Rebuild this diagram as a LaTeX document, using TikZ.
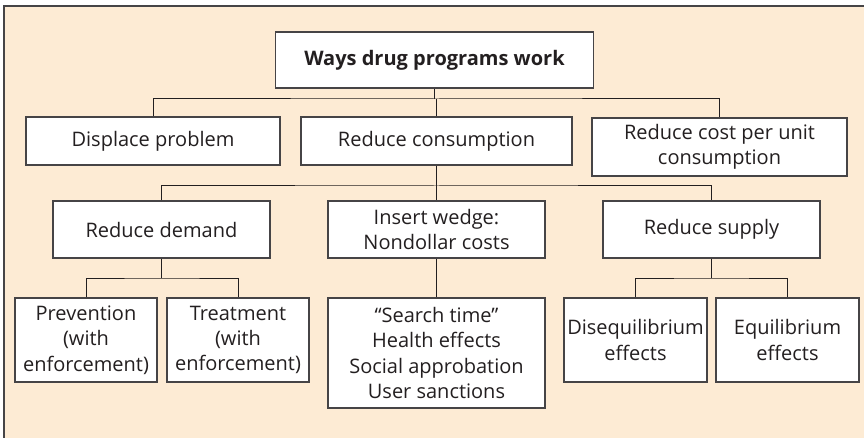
\documentclass[tikz,border=0pt]{standalone}
\usepackage{fontspec}
\setmainfont{Open Sans}
\definecolor{bg}{RGB}{253,235,212}
\definecolor{ink}{RGB}{35,31,32}
\definecolor{frame}{RGB}{70,68,70}
\begin{document}
\begin{tikzpicture}[x=1pt,y=-1pt,
  box/.style={draw=frame,line width=1.2pt,fill=white,rectangle,align=center,
    text=ink,inner sep=0pt,font=\fontsize{20}{25.3}\selectfont},
  conn/.style={draw=ink,line width=1pt}]
\useasboundingbox (0,0) rectangle (864,438);
\fill[bg] (4,6) rectangle (864,438);
\draw[frame,line width=1.4pt] (4,438) -- (4,6) -- (864,6);
% level 0
\node[box,minimum width=318,minimum height=56,font=\fontsize{20}{25.3}\selectfont\bfseries] (title) at (434.5,60) {Ways drug programs work};
% level 1
\node[box,minimum width=254,minimum height=48] (disp) at (153,141) {Displace problem};
\node[box,minimum width=271,minimum height=48] (cons) at (436.5,141) {Reduce consumption};
\node[box,minimum width=255,minimum height=58] (cost) at (719.5,147) {Reduce cost per unit\\consumption};
% level 2
\node[box,minimum width=217,minimum height=57] (dem) at (161.5,229.5) {Reduce demand};
\node[box,minimum width=217,minimum height=57] (wedge) at (436.5,229.5) {Insert wedge:\\Nondollar costs};
\node[box,minimum width=217,minimum height=57] (sup) at (711.5,229.5) {Reduce supply};
% level 3
\node[box,minimum width=142,minimum height=84] (prev) at (86,340) {Prevention\\(with\\enforcement)};
\node[box,minimum width=142,minimum height=84] (treat) at (238,340) {Treatment\\(with\\enforcement)};
\node[box,minimum width=217,minimum height=110] (search) at (436.5,353) {``Search time''\\Health effects\\Social approbation\\User sanctions};
\node[box,minimum width=143,minimum height=84] (diseq) at (635.5,340) {Disequilibrium\\effects};
\node[box,minimum width=143,minimum height=84] (equil) at (787.5,340) {Equilibrium\\effects};
% connector levels
\coordinate (b1) at (436,99);
\coordinate (b2) at (436,186);
\coordinate (b3) at (436,278);
% connectors
\draw[conn] (title.south) -- (title.south |- b1);
\draw[conn] (disp.north) |- (cons.north |- b1) -| (cost.north);
\draw[conn] (cons.north) -- (cons.north |- b1);
\draw[conn] (cons.south) -- (wedge.north);
\draw[conn] (dem.north) |- (wedge.north |- b2) -| (sup.north);
\draw[conn] (wedge.south) -- (search.north);
\draw[conn] (dem.south) -- (dem.south |- b3);
\draw[conn] (prev.north) |- (dem.south |- b3) -| (treat.north);
\draw[conn] (sup.south) -- (sup.south |- b3);
\draw[conn] (diseq.north) |- (sup.south |- b3) -| (equil.north);
\end{tikzpicture}
\end{document}
